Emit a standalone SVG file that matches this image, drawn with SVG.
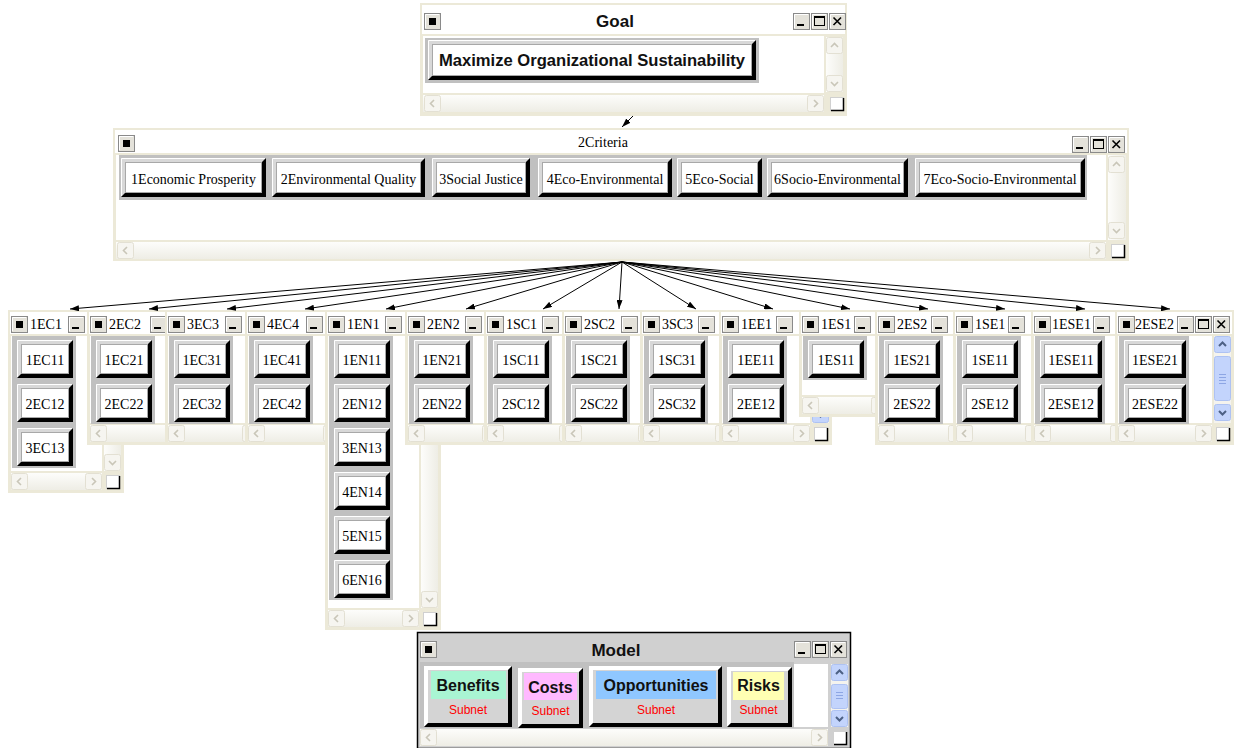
<svg xmlns="http://www.w3.org/2000/svg" width="1237" height="748" viewBox="0 0 1237 748">
<defs>
<style>
.fr{fill:#ECE9D8}
.wh{fill:#fff}
.bd{fill:#C0C0C0}
.tt{font-family:"Liberation Serif","Times New Roman",serif;font-size:14px;fill:#000}
.nl{font-family:"Liberation Serif","Times New Roman",serif;font-size:14px;fill:#000;text-anchor:middle}
.bt{font-family:"Liberation Sans",Arial,sans-serif;font-weight:bold;fill:#111;text-anchor:middle}
.sub{font-family:"Liberation Sans",Arial,sans-serif;font-size:12px;fill:#FF0000;text-anchor:middle}
.ht{fill:url(#gh)}
.vt{fill:url(#gv)}
.hl{fill:none;stroke:#fff}
.sh{fill:#000}
.fc{fill:#fff;stroke:#A8A8A8}
.lg{fill:#D8D8D8}
.sb{fill:#F6F5F0;stroke:#E3E0D3}
.sa{fill:none;stroke:#C9C6B8;stroke-width:1.6}
.bb{fill:#C3D4FC;stroke:#AEC2F2}
.ba{fill:none;stroke:#4D6185;stroke-width:2}
.wb{fill:#E4E2DA;stroke:#8A8A8A}
.cn line{stroke:#000;stroke-width:1;fill:none}
</style>
<linearGradient id="gh" x1="0" y1="0" x2="0" y2="1"><stop offset="0" stop-color="#FDFDFB"/><stop offset="1" stop-color="#EEEDE5"/></linearGradient>
<linearGradient id="gv" x1="0" y1="0" x2="1" y2="0"><stop offset="0" stop-color="#FDFDFB"/><stop offset="1" stop-color="#EEEDE5"/></linearGradient>
<marker id="ah" markerUnits="userSpaceOnUse" markerWidth="9" markerHeight="6" viewBox="0 0 9 6" refX="9" refY="3" orient="auto"><path d="M0,0 L9,3 L0,6 Z" fill="#000"/></marker>
<g id="sL"><rect x="0.5" y="0.5" width="16" height="16" rx="2" class="sb"/><polyline points="10,5 6.5,8.5 10,12" class="sa"/></g>
<g id="sR"><rect x="0.5" y="0.5" width="16" height="16" rx="2" class="sb"/><polyline points="7,5 10.5,8.5 7,12" class="sa"/></g>
<g id="sU"><rect x="0.5" y="0.5" width="16" height="16" rx="2" class="sb"/><polyline points="5,10 8.5,6.5 12,10" class="sa"/></g>
<g id="sD"><rect x="0.5" y="0.5" width="16" height="16" rx="2" class="sb"/><polyline points="5,7 8.5,10.5 12,7" class="sa"/></g>
<g id="bU"><rect x="0.5" y="0.5" width="16" height="16" rx="2" class="bb"/><polyline points="5,10 8.5,6.5 12,10" class="ba"/></g>
<g id="bD"><rect x="0.5" y="0.5" width="16" height="16" rx="2" class="bb"/><polyline points="5,7 8.5,10.5 12,7" class="ba"/></g>
<g id="cor"><rect x="0.5" y="0.5" width="13" height="13" fill="#fff" stroke="#D0D0D0"/><path d="M13.5,1 V13.5 H1" fill="none" stroke="#000" stroke-width="1.5"/></g>
<g id="ico"><rect x="0.5" y="0.5" width="16" height="16" class="wb"/><path d="M1.5,15 V1.5 H15" fill="none" stroke="#fff"/><rect x="5" y="5" width="7" height="7" fill="#000"/></g>
<g id="mn"><rect x="0.5" y="0.5" width="16" height="16" class="wb"/><path d="M1.5,15 V1.5 H15" fill="none" stroke="#fff"/><rect x="4" y="11" width="7" height="2" fill="#000"/></g>
<g id="mx"><rect x="0.5" y="0.5" width="16" height="16" class="wb"/><path d="M1.5,15 V1.5 H15" fill="none" stroke="#fff"/><rect x="3.5" y="3.5" width="10" height="9" fill="none" stroke="#000"/><rect x="3.5" y="3.5" width="10" height="1.5" fill="#000"/></g>
<g id="cl"><rect x="0.5" y="0.5" width="16" height="16" class="wb"/><path d="M1.5,15 V1.5 H15" fill="none" stroke="#fff"/><path d="M4.5,4.5 L12,12 M12,4.5 L4.5,12" stroke="#000" stroke-width="1.6"/></g>
<g id="b56"><rect width="56" height="38" class="lg"/><path d="M0.5,37.5 V0.5 H55.5" class="hl"/><path d="M56,0 V38 H0 L4,34 H52 V4 Z" class="sh"/><rect x="4.5" y="4.5" width="47" height="29" class="fc"/></g>
<g id="b62"><rect width="62" height="38" class="lg"/><path d="M0.5,37.5 V0.5 H61.5" class="hl"/><path d="M62,0 V38 H0 L4,34 H58 V4 Z" class="sh"/><rect x="4.5" y="4.5" width="53" height="29" class="fc"/></g>
</defs>
<rect width="1237" height="748" fill="#fff"/>

<!-- Goal window -->
<g id="w-Goal">
<rect class="fr" x="420" y="3" width="427" height="113"/>
<rect class="wh" x="422" y="5" width="423" height="29"/>
<use href="#ico" x="424" y="13"/>
<text class="bt" x="615" y="27" font-size="17">Goal</text>
<use href="#mn" x="793" y="13"/><use href="#mx" x="811" y="13"/><use href="#cl" x="829" y="13"/>
<rect class="wh" x="423" y="36" width="401" height="57"/>
<rect class="vt" x="826" y="37" width="17" height="55"/>
<use href="#sU" x="826" y="37"/><use href="#sD" x="826" y="75"/>
<rect class="ht" x="423" y="95" width="401" height="17"/>
<use href="#sL" x="424" y="95"/><use href="#sR" x="807" y="95"/>
<use href="#cor" x="830" y="97"/>
<rect class="bd" x="425" y="38" width="334" height="45"/>
<g id="n-goal" transform="translate(428,40)">
<rect width="328" height="40" class="lg"/><path d="M0.5,39.5 V0.5 H327.5" class="hl"/><path d="M328,0 V40 H0 L4,36 H324 V4 Z" class="sh"/><rect x="4.5" y="4.5" width="319" height="31" class="fc"/>
<text class="bt" x="164" y="26" font-size="16.6">Maximize Organizational Sustainability</text>
</g>
</g>

<!-- Criteria window -->
<g id="w-Criteria">
<rect class="fr" x="113" y="128" width="1016" height="133"/>
<rect class="wh" x="115" y="130" width="1012" height="23"/>
<use href="#ico" x="118" y="135"/>
<text class="nl" x="603" y="147">2Criteria</text>
<use href="#mn" x="1072" y="136"/><use href="#mx" x="1090" y="136"/><use href="#cl" x="1108" y="136"/>
<rect class="wh" x="116" y="155" width="990" height="85"/>
<rect class="vt" x="1108" y="155" width="18" height="85"/>
<use href="#sU" x="1108" y="156"/><use href="#sD" x="1108" y="222"/>
<rect class="ht" x="116" y="242" width="990" height="17"/>
<use href="#sL" x="117" y="242"/><use href="#sR" x="1089" y="242"/>
<use href="#cor" x="1111" y="244"/>
<rect class="bd" x="119" y="155" width="968" height="45"/>
<g id="n-c1" transform="translate(121,158)"><rect width="145" height="39" class="lg"/><path d="M0.5,38.5 V0.5 H144.5" class="hl"/><path d="M145,0 V39 H0 L4,35 H141 V4 Z" class="sh"/><rect x="4.5" y="4.5" width="136" height="30" class="fc"/><text class="nl" x="72.5" y="26">1Economic Prosperity</text></g>
<g id="n-c2" transform="translate(272,158)"><rect width="153" height="39" class="lg"/><path d="M0.5,38.5 V0.5 H152.5" class="hl"/><path d="M153,0 V39 H0 L4,35 H149 V4 Z" class="sh"/><rect x="4.5" y="4.5" width="144" height="30" class="fc"/><text class="nl" x="76.5" y="26">2Environmental Quality</text></g>
<g id="n-c3" transform="translate(432,158)"><rect width="98" height="39" class="lg"/><path d="M0.5,38.5 V0.5 H97.5" class="hl"/><path d="M98,0 V39 H0 L4,35 H94 V4 Z" class="sh"/><rect x="4.5" y="4.5" width="89" height="30" class="fc"/><text class="nl" x="49" y="26">3Social Justice</text></g>
<g id="n-c4" transform="translate(538,158)"><rect width="134" height="39" class="lg"/><path d="M0.5,38.5 V0.5 H133.5" class="hl"/><path d="M134,0 V39 H0 L4,35 H130 V4 Z" class="sh"/><rect x="4.5" y="4.5" width="125" height="30" class="fc"/><text class="nl" x="67" y="26">4Eco-Environmental</text></g>
<g id="n-c5" transform="translate(677,158)"><rect width="85" height="39" class="lg"/><path d="M0.5,38.5 V0.5 H84.5" class="hl"/><path d="M85,0 V39 H0 L4,35 H81 V4 Z" class="sh"/><rect x="4.5" y="4.5" width="76" height="30" class="fc"/><text class="nl" x="42.5" y="26">5Eco-Social</text></g>
<g id="n-c6" transform="translate(767,158)"><rect width="141" height="39" class="lg"/><path d="M0.5,38.5 V0.5 H140.5" class="hl"/><path d="M141,0 V39 H0 L4,35 H137 V4 Z" class="sh"/><rect x="4.5" y="4.5" width="132" height="30" class="fc"/><text class="nl" x="70.5" y="26">6Socio-Environmental</text></g>
<g id="n-c7" transform="translate(915,158)"><rect width="170" height="39" class="lg"/><path d="M0.5,38.5 V0.5 H169.5" class="hl"/><path d="M170,0 V39 H0 L4,35 H166 V4 Z" class="sh"/><rect x="4.5" y="4.5" width="161" height="30" class="fc"/><text class="nl" x="85" y="26">7Eco-Socio-Environmental</text></g>
</g>

<!-- Cluster windows -->
<g id="w-1EC1">
<rect class="fr" x="8" y="310" width="116" height="183"/>
<rect class="wh" x="10" y="312" width="112" height="22"/>
<use href="#ico" x="11" y="316"/><text class="tt" x="30" y="329">1EC1</text><use href="#mn" x="68" y="316"/>
<rect class="wh" x="11" y="336" width="91" height="135"/>
<rect class="vt" x="104" y="336" width="17" height="135"/><use href="#sU" x="104" y="336"/><use href="#sD" x="104" y="454"/>
<rect class="ht" x="11" y="473" width="91" height="17"/><use href="#sL" x="11" y="473"/><use href="#sR" x="85" y="473"/>
<use href="#cor" x="106" y="475"/>
<rect class="bd" x="12" y="336" width="64" height="132"/>
<g id="n-1EC11"><use href="#b56" x="17" y="340"/><text class="nl" x="45" y="365">1EC11</text></g>
<g id="n-2EC12"><use href="#b56" x="17" y="384"/><text class="nl" x="45" y="409">2EC12</text></g>
<g id="n-3EC13"><use href="#b56" x="17" y="428"/><text class="nl" x="45" y="453">3EC13</text></g>
</g>

<g id="w-2EC2">
<rect class="fr" x="87" y="310" width="119" height="135"/>
<rect class="wh" x="89" y="312" width="115" height="22"/>
<use href="#ico" x="90" y="316"/><text class="tt" x="109" y="329">2EC2</text><use href="#mn" x="150" y="316"/>
<rect class="wh" x="90" y="336" width="94" height="87"/>
<rect class="vt" x="186" y="336" width="17" height="87"/><use href="#sU" x="186" y="336"/><use href="#sD" x="186" y="406"/>
<rect class="ht" x="90" y="425" width="94" height="17"/><use href="#sL" x="90" y="425"/><use href="#sR" x="167" y="425"/>
<use href="#cor" x="188" y="427"/>
<rect class="bd" x="91" y="336" width="64" height="88"/>
<g id="n-1EC21"><use href="#b56" x="96" y="340"/><text class="nl" x="124" y="365">1EC21</text></g>
<g id="n-2EC22"><use href="#b56" x="96" y="384"/><text class="nl" x="124" y="409">2EC22</text></g>
</g>

<g id="w-3EC3">
<rect class="fr" x="165" y="310" width="116" height="135"/>
<rect class="wh" x="167" y="312" width="112" height="22"/>
<use href="#ico" x="168" y="316"/><text class="tt" x="187" y="329">3EC3</text><use href="#mn" x="225" y="316"/>
<rect class="wh" x="168" y="336" width="91" height="87"/>
<rect class="vt" x="261" y="336" width="17" height="87"/><use href="#sU" x="261" y="336"/><use href="#sD" x="261" y="406"/>
<rect class="ht" x="168" y="425" width="91" height="17"/><use href="#sL" x="168" y="425"/><use href="#sR" x="242" y="425"/>
<use href="#cor" x="263" y="427"/>
<rect class="bd" x="169" y="336" width="64" height="88"/>
<g id="n-1EC31"><use href="#b56" x="174" y="340"/><text class="nl" x="202" y="365">1EC31</text></g>
<g id="n-2EC32"><use href="#b56" x="174" y="384"/><text class="nl" x="202" y="409">2EC32</text></g>
</g>

<g id="w-4EC4">
<rect class="fr" x="245" y="310" width="117" height="135"/>
<rect class="wh" x="247" y="312" width="113" height="22"/>
<use href="#ico" x="248" y="316"/><text class="tt" x="267" y="329">4EC4</text><use href="#mn" x="306" y="316"/>
<rect class="wh" x="248" y="336" width="92" height="87"/>
<rect class="vt" x="342" y="336" width="17" height="87"/><use href="#sU" x="342" y="336"/><use href="#sD" x="342" y="406"/>
<rect class="ht" x="248" y="425" width="92" height="17"/><use href="#sL" x="248" y="425"/><use href="#sR" x="323" y="425"/>
<use href="#cor" x="344" y="427"/>
<rect class="bd" x="249" y="336" width="64" height="88"/>
<g id="n-1EC41"><use href="#b56" x="254" y="340"/><text class="nl" x="282" y="365">1EC41</text></g>
<g id="n-2EC42"><use href="#b56" x="254" y="384"/><text class="nl" x="282" y="409">2EC42</text></g>
</g>

<g id="w-1EN1">
<rect class="fr" x="325" y="310" width="116" height="320"/>
<rect class="wh" x="327" y="312" width="112" height="22"/>
<use href="#ico" x="328" y="316"/><text class="tt" x="347" y="329">1EN1</text><use href="#mn" x="385" y="316"/>
<rect class="wh" x="328" y="336" width="91" height="272"/>
<rect class="vt" x="421" y="336" width="17" height="272"/><use href="#sU" x="421" y="336"/><use href="#sD" x="421" y="591"/>
<rect class="ht" x="328" y="610" width="91" height="17"/><use href="#sL" x="328" y="610"/><use href="#sR" x="402" y="610"/>
<use href="#cor" x="423" y="612"/>
<rect class="bd" x="329" y="336" width="64" height="264"/>
<g id="n-1EN11"><use href="#b56" x="334" y="340"/><text class="nl" x="362" y="365">1EN11</text></g>
<g id="n-2EN12"><use href="#b56" x="334" y="384"/><text class="nl" x="362" y="409">2EN12</text></g>
<g id="n-3EN13"><use href="#b56" x="334" y="428"/><text class="nl" x="362" y="453">3EN13</text></g>
<g id="n-4EN14"><use href="#b56" x="334" y="472"/><text class="nl" x="362" y="497">4EN14</text></g>
<g id="n-5EN15"><use href="#b56" x="334" y="516"/><text class="nl" x="362" y="541">5EN15</text></g>
<g id="n-6EN16"><use href="#b56" x="334" y="560"/><text class="nl" x="362" y="585">6EN16</text></g>
</g>

<g id="w-2EN2">
<rect class="fr" x="405" y="310" width="116" height="135"/>
<rect class="wh" x="407" y="312" width="112" height="22"/>
<use href="#ico" x="408" y="316"/><text class="tt" x="427" y="329">2EN2</text><use href="#mn" x="465" y="316"/>
<rect class="wh" x="408" y="336" width="91" height="87"/>
<rect class="vt" x="501" y="336" width="17" height="87"/><use href="#sU" x="501" y="336"/><use href="#sD" x="501" y="406"/>
<rect class="ht" x="408" y="425" width="91" height="17"/><use href="#sL" x="408" y="425"/><use href="#sR" x="482" y="425"/>
<use href="#cor" x="503" y="427"/>
<rect class="bd" x="409" y="336" width="64" height="88"/>
<g id="n-1EN21"><use href="#b56" x="414" y="340"/><text class="nl" x="442" y="365">1EN21</text></g>
<g id="n-2EN22"><use href="#b56" x="414" y="384"/><text class="nl" x="442" y="409">2EN22</text></g>
</g>

<g id="w-1SC1">
<rect class="fr" x="484" y="310" width="114" height="135"/>
<rect class="wh" x="486" y="312" width="110" height="22"/>
<use href="#ico" x="487" y="316"/><text class="tt" x="506" y="329">1SC1</text><use href="#mn" x="542" y="316"/>
<rect class="wh" x="487" y="336" width="89" height="87"/>
<rect class="vt" x="578" y="336" width="17" height="87"/><use href="#sU" x="578" y="336"/><use href="#sD" x="578" y="406"/>
<rect class="ht" x="487" y="425" width="89" height="17"/><use href="#sL" x="487" y="425"/><use href="#sR" x="559" y="425"/>
<use href="#cor" x="580" y="427"/>
<rect class="bd" x="488" y="336" width="64" height="88"/>
<g id="n-1SC11"><use href="#b56" x="493" y="340"/><text class="nl" x="521" y="365">1SC11</text></g>
<g id="n-2SC12"><use href="#b56" x="493" y="384"/><text class="nl" x="521" y="409">2SC12</text></g>
</g>

<g id="w-2SC2">
<rect class="fr" x="562" y="310" width="115" height="135"/>
<rect class="wh" x="564" y="312" width="111" height="22"/>
<use href="#ico" x="565" y="316"/><text class="tt" x="584" y="329">2SC2</text><use href="#mn" x="621" y="316"/>
<rect class="wh" x="565" y="336" width="90" height="87"/>
<rect class="vt" x="657" y="336" width="17" height="87"/><use href="#sU" x="657" y="336"/><use href="#sD" x="657" y="406"/>
<rect class="ht" x="565" y="425" width="90" height="17"/><use href="#sL" x="565" y="425"/><use href="#sR" x="638" y="425"/>
<use href="#cor" x="659" y="427"/>
<rect class="bd" x="566" y="336" width="64" height="88"/>
<g id="n-1SC21"><use href="#b56" x="571" y="340"/><text class="nl" x="599" y="365">1SC21</text></g>
<g id="n-2SC22"><use href="#b56" x="571" y="384"/><text class="nl" x="599" y="409">2SC22</text></g>
</g>

<g id="w-3SC3">
<rect class="fr" x="640" y="310" width="114" height="135"/>
<rect class="wh" x="642" y="312" width="110" height="22"/>
<use href="#ico" x="643" y="316"/><text class="tt" x="662" y="329">3SC3</text><use href="#mn" x="698" y="316"/>
<rect class="wh" x="643" y="336" width="89" height="87"/>
<rect class="vt" x="734" y="336" width="17" height="87"/><use href="#sU" x="734" y="336"/><use href="#sD" x="734" y="406"/>
<rect class="ht" x="643" y="425" width="89" height="17"/><use href="#sL" x="643" y="425"/><use href="#sR" x="715" y="425"/>
<use href="#cor" x="736" y="427"/>
<rect class="bd" x="644" y="336" width="64" height="88"/>
<g id="n-1SC31"><use href="#b56" x="649" y="340"/><text class="nl" x="677" y="365">1SC31</text></g>
<g id="n-2SC32"><use href="#b56" x="649" y="384"/><text class="nl" x="677" y="409">2SC32</text></g>
</g>

<g id="w-1EE1">
<rect class="fr" x="719" y="310" width="113" height="135"/>
<rect class="wh" x="721" y="312" width="109" height="22"/>
<use href="#ico" x="722" y="316"/><text class="tt" x="741" y="329">1EE1</text><use href="#mn" x="776" y="316"/>
<rect class="wh" x="722" y="336" width="88" height="87"/>
<rect x="812" y="336" width="17" height="87" fill="#F4F3EE"/><use href="#bU" x="812" y="336"/><rect x="812.5" y="356.5" width="16" height="40" rx="2" class="bb"/><use href="#bD" x="812" y="406"/>
<rect class="ht" x="722" y="425" width="88" height="17"/><use href="#sL" x="722" y="425"/><use href="#sR" x="793" y="425"/>
<use href="#cor" x="814" y="427"/>
<rect class="bd" x="723" y="336" width="64" height="88"/>
<g id="n-1EE11"><use href="#b56" x="728" y="340"/><text class="nl" x="756" y="365">1EE11</text></g>
<g id="n-2EE12"><use href="#b56" x="728" y="384"/><text class="nl" x="756" y="409">2EE12</text></g>
</g>

<g id="w-1ES1">
<rect class="fr" x="799" y="310" width="111" height="107"/>
<rect class="wh" x="801" y="312" width="107" height="22"/>
<use href="#ico" x="802" y="316"/><text class="tt" x="821" y="329">1ES1</text><use href="#mn" x="854" y="316"/>
<rect class="wh" x="802" y="336" width="86" height="59"/>
<rect class="vt" x="890" y="336" width="17" height="59"/><use href="#sU" x="890" y="336"/><use href="#sD" x="890" y="378"/>
<rect class="ht" x="802" y="397" width="86" height="17"/><use href="#sL" x="802" y="397"/><use href="#sR" x="871" y="397"/>
<use href="#cor" x="892" y="399"/>
<rect class="bd" x="803" y="336" width="64" height="44"/>
<g id="n-1ES11"><use href="#b56" x="808" y="340"/><text class="nl" x="836" y="365">1ES11</text></g>
</g>

<g id="w-2ES2">
<rect class="fr" x="875" y="310" width="112" height="135"/>
<rect class="wh" x="877" y="312" width="108" height="22"/>
<use href="#ico" x="878" y="316"/><text class="tt" x="897" y="329">2ES2</text><use href="#mn" x="931" y="316"/>
<rect class="wh" x="878" y="336" width="87" height="87"/>
<rect class="vt" x="967" y="336" width="17" height="87"/><use href="#sU" x="967" y="336"/><use href="#sD" x="967" y="406"/>
<rect class="ht" x="878" y="425" width="87" height="17"/><use href="#sL" x="878" y="425"/><use href="#sR" x="948" y="425"/>
<use href="#cor" x="969" y="427"/>
<rect class="bd" x="879" y="336" width="64" height="88"/>
<g id="n-1ES21"><use href="#b56" x="884" y="340"/><text class="nl" x="912" y="365">1ES21</text></g>
<g id="n-2ES22"><use href="#b56" x="884" y="384"/><text class="nl" x="912" y="409">2ES22</text></g>
</g>

<g id="w-1SE1">
<rect class="fr" x="953" y="310" width="111" height="135"/>
<rect class="wh" x="955" y="312" width="107" height="22"/>
<use href="#ico" x="956" y="316"/><text class="tt" x="975" y="329">1SE1</text><use href="#mn" x="1008" y="316"/>
<rect class="wh" x="956" y="336" width="86" height="87"/>
<rect class="vt" x="1044" y="336" width="17" height="87"/><use href="#sU" x="1044" y="336"/><use href="#sD" x="1044" y="406"/>
<rect class="ht" x="956" y="425" width="86" height="17"/><use href="#sL" x="956" y="425"/><use href="#sR" x="1025" y="425"/>
<use href="#cor" x="1046" y="427"/>
<rect class="bd" x="957" y="336" width="64" height="88"/>
<g id="n-1SE11"><use href="#b56" x="962" y="340"/><text class="nl" x="990" y="365">1SE11</text></g>
<g id="n-2SE12"><use href="#b56" x="962" y="384"/><text class="nl" x="990" y="409">2SE12</text></g>
</g>

<g id="w-1ESE1">
<rect class="fr" x="1031" y="310" width="118" height="135"/>
<rect class="wh" x="1033" y="312" width="114" height="22"/>
<use href="#ico" x="1034" y="316"/><text class="tt" x="1052" y="329" font-size="13.5">1ESE1</text><use href="#mn" x="1093" y="316"/>
<rect class="wh" x="1034" y="336" width="93" height="87"/>
<rect class="vt" x="1129" y="336" width="17" height="87"/><use href="#sU" x="1129" y="336"/><use href="#sD" x="1129" y="406"/>
<rect class="ht" x="1034" y="425" width="93" height="17"/><use href="#sL" x="1034" y="425"/><use href="#sR" x="1110" y="425"/>
<use href="#cor" x="1131" y="427"/>
<rect class="bd" x="1035" y="336" width="70" height="88"/>
<g id="n-1ESE11"><use href="#b62" x="1040" y="340"/><text class="nl" x="1071" y="365">1ESE11</text></g>
<g id="n-2ESE12"><use href="#b62" x="1040" y="384"/><text class="nl" x="1071" y="409">2ESE12</text></g>
</g>

<g id="w-2ESE2">
<rect class="fr" x="1115" y="310" width="119" height="135"/>
<rect class="wh" x="1117" y="312" width="115" height="22"/>
<use href="#ico" x="1118" y="316"/><text class="tt" x="1135" y="329" font-size="13.5">2ESE2</text>
<use href="#mn" x="1177" y="316"/><use href="#mx" x="1195" y="316"/><use href="#cl" x="1213" y="316"/>
<rect class="wh" x="1118" y="336" width="94" height="87"/>
<rect x="1214" y="336" width="17" height="87" fill="#F4F3EE"/><use href="#bU" x="1214" y="336"/>
<rect x="1214.5" y="356.5" width="16" height="44" rx="2" class="bb"/>
<path d="M1219,374.5 H1226 M1219,377.5 H1226 M1219,380.5 H1226 M1219,383.5 H1226" stroke="#8DA6E4" stroke-width="1"/>
<use href="#bD" x="1214" y="404"/>
<rect class="ht" x="1118" y="425" width="94" height="17"/><use href="#sL" x="1118" y="425"/><use href="#sR" x="1195" y="425"/>
<use href="#cor" x="1216" y="427"/>
<rect class="bd" x="1119" y="336" width="70" height="88"/>
<g id="n-1ESE21"><use href="#b62" x="1124" y="340"/><text class="nl" x="1155" y="365">1ESE21</text></g>
<g id="n-2ESE22"><use href="#b62" x="1124" y="384"/><text class="nl" x="1155" y="409">2ESE22</text></g>
</g>

<!-- Model window -->
<g id="w-Model">
<rect x="417.5" y="632.5" width="433" height="116" fill="#D0D0D0" stroke="#000" stroke-width="1.5"/>
<use href="#ico" x="420" y="641"/>
<text class="bt" x="616" y="656" font-size="17">Model</text>
<use href="#mn" x="794" y="641"/><use href="#mx" x="812" y="641"/><use href="#cl" x="830" y="641"/>
<rect x="420" y="662" width="374" height="66" fill="#C0C0C0"/>
<rect class="wh" x="794" y="664" width="34" height="63"/>
<rect x="831" y="664" width="17" height="63" fill="#F4F3EE"/>
<use href="#bU" x="831" y="664"/>
<rect x="831.5" y="684.5" width="16" height="24" rx="2" class="bb"/>
<path d="M836,692.5 H843 M836,695.5 H843 M836,698.5 H843" stroke="#8DA6E4" stroke-width="1"/>
<use href="#bD" x="831" y="710"/>
<rect class="ht" x="420" y="729" width="408" height="17"/>
<use href="#sL" x="420" y="729"/><use href="#sR" x="811" y="729"/>
<use href="#cor" x="833" y="731"/>
<g id="n-Benefits" transform="translate(424,666)">
<path d="M0,0 H88 L84,4 H4 V57 L0,61 Z" fill="#fff"/><path d="M88,0 V61 H0 L4,57 H84 V4 Z" fill="#000"/>
<rect x="4" y="4" width="80" height="53" fill="#D4D4D4"/>
<rect x="7" y="5" width="75" height="28" fill="#A9F5D3"/>
<text class="bt" x="44" y="25" font-size="16">Benefits</text>
<text class="sub" x="44" y="48">Subnet</text>
</g>
<g id="n-Costs" transform="translate(518,668)">
<path d="M0,0 H65 L61,4 H4 V56 L0,60 Z" fill="#fff"/><path d="M65,0 V60 H0 L4,56 H61 V4 Z" fill="#000"/>
<rect x="4" y="4" width="57" height="52" fill="#D4D4D4"/>
<rect x="6" y="5" width="53" height="27" fill="#FFB9FF"/>
<text class="bt" x="32.5" y="25" font-size="16">Costs</text>
<text class="sub" x="32.5" y="47">Subnet</text>
</g>
<g id="n-Opportunities" transform="translate(589,666)">
<path d="M0,0 H133 L129,4 H4 V57 L0,61 Z" fill="#fff"/><path d="M133,0 V61 H0 L4,57 H129 V4 Z" fill="#000"/>
<rect x="4" y="4" width="125" height="53" fill="#D4D4D4"/>
<rect x="7" y="5" width="120" height="28" fill="#8FC7FF"/>
<text class="bt" x="67" y="25" font-size="16">Opportunities</text>
<text class="sub" x="67" y="48">Subnet</text>
</g>
<g id="n-Risks" transform="translate(727,667)">
<path d="M0,0 H65 L61,4 H4 V56 L0,60 Z" fill="#fff"/><path d="M65,0 V60 H0 L4,56 H61 V4 Z" fill="#000"/>
<rect x="4" y="4" width="57" height="52" fill="#D4D4D4"/>
<rect x="6" y="5" width="51" height="28" fill="#FFFFB3"/>
<text class="bt" x="31.5" y="24" font-size="16">Risks</text>
<text class="sub" x="31.5" y="47">Subnet</text>
</g>
</g>

<!-- Connectors -->
<g id="connectors" class="cn">
<line x1="633" y1="116" x2="622" y2="127" marker-end="url(#ah)"/>
<line x1="622" y1="262" x2="70" y2="309" marker-end="url(#ah)"/>
<line x1="622" y1="262" x2="149" y2="309" marker-end="url(#ah)"/>
<line x1="622" y1="262" x2="227" y2="309" marker-end="url(#ah)"/>
<line x1="622" y1="262" x2="305" y2="309" marker-end="url(#ah)"/>
<line x1="622" y1="262" x2="386" y2="309" marker-end="url(#ah)"/>
<line x1="622" y1="262" x2="466" y2="309" marker-end="url(#ah)"/>
<line x1="622" y1="262" x2="543" y2="309" marker-end="url(#ah)"/>
<line x1="622" y1="262" x2="619" y2="309" marker-end="url(#ah)"/>
<line x1="622" y1="262" x2="696" y2="309" marker-end="url(#ah)"/>
<line x1="622" y1="262" x2="773" y2="309" marker-end="url(#ah)"/>
<line x1="622" y1="262" x2="850" y2="309" marker-end="url(#ah)"/>
<line x1="622" y1="262" x2="928" y2="309" marker-end="url(#ah)"/>
<line x1="622" y1="262" x2="1005" y2="309" marker-end="url(#ah)"/>
<line x1="622" y1="262" x2="1085" y2="309" marker-end="url(#ah)"/>
<line x1="622" y1="262" x2="1170" y2="309" marker-end="url(#ah)"/>
</g>
</svg>
